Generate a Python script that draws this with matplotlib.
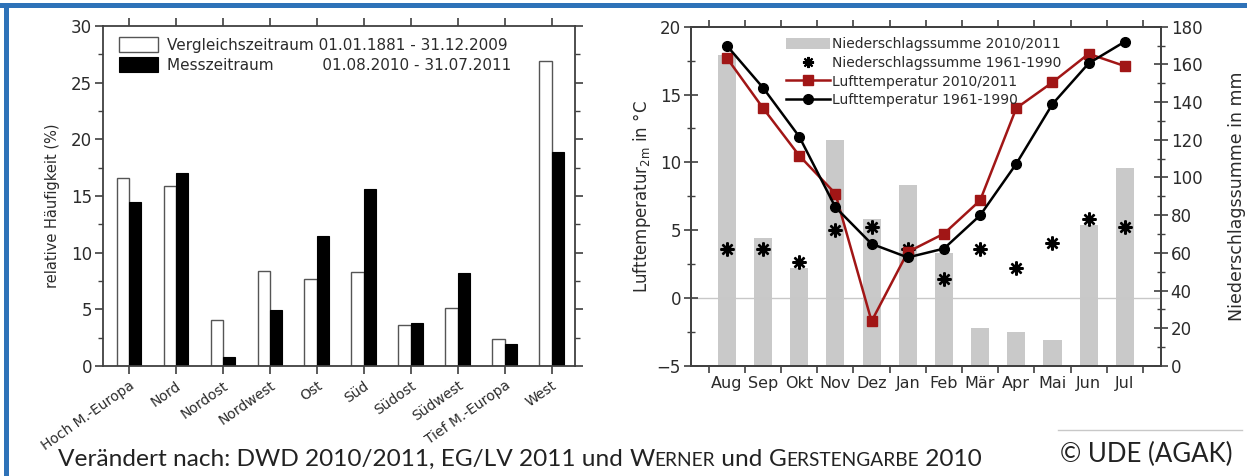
import numpy as np
import matplotlib
matplotlib.use('Agg')
from matplotlib import pyplot as plt
from matplotlib.lines import Line2D
from matplotlib.patches import Patch, Rectangle

# Wetterlagen: relative Häufigkeit (%)
categories = ['Hoch M.-Europa', 'Nord', 'Nordost', 'Nordwest', 'Ost', 'Süd',
              'Südost', 'Südwest', 'Tief M.-Europa', 'West']
vergleich = [16.6, 15.9, 4.1, 8.4, 7.7, 8.3, 3.6, 5.1, 2.4, 26.9]
mess = [14.5, 17.0, 0.8, 4.9, 11.5, 15.6, 3.8, 8.2, 1.9, 18.9]

# Klimadiagramm Aug 2010 - Jul 2011
months = ['Aug', 'Sep', 'Okt', 'Nov', 'Dez', 'Jan', 'Feb', 'Mär', 'Apr', 'Mai', 'Jun', 'Jul']
precip_2010 = [165, 68, 52, 120, 78, 96, 60, 20, 18, 14, 75, 105]
precip_norm = [62, 62, 55, 72, 74, 62, 46, 62, 52, 65, 78, 74]
temp_2010 = [17.7, 14.0, 10.5, 7.7, -1.7, 3.4, 4.75, 7.2, 14.0, 15.9, 18.0, 17.1]
temp_norm = [18.6, 15.5, 11.9, 6.7, 4.0, 3.0, 3.65, 6.1, 9.9, 14.3, 17.3, 18.9]

W, H = 1247, 476
fig = plt.figure(figsize=(W / 100, H / 100), dpi=100)
fig.patch.set_facecolor('white')

txt = '#2b2b2b'
spine_c = '#404040'
plt.rcParams['font.family'] = ['DejaVu Sans']


def box(x0, y0, x1, y1):
    return [x0 / W, 1 - y1 / H, (x1 - x0) / W, (y1 - y0) / H]


def style_spines(ax):
    for s in ax.spines.values():
        s.set_color(spine_c)
        s.set_linewidth(1.3)


# ---- left: Wetterlagen ----
ax = fig.add_axes(box(103, 26, 575, 366))
x = np.arange(len(categories))
bw = 0.26
ax.bar(x - bw / 2, vergleich, bw, color='white', edgecolor='#555555', linewidth=1.0,
       label='Vergleichszeitraum 01.01.1881 - 31.12.2009')
ax.bar(x + bw / 2, mess, bw, color='black', edgecolor='black', linewidth=0.8,
       label='Messzeitraum' + ' ' * 10 + '01.08.2010 - 31.07.2011')
ax.set_xlim(-0.55, 9.5)
ax.set_ylim(0, 30)
ax.set_yticks(np.arange(0, 31, 5))
ax.set_yticks(np.arange(2.5, 30, 5), minor=True)
ax.set_xticks(x)
ax.set_xticklabels(categories, rotation=35, ha='right', rotation_mode='anchor',
                   fontsize=10, color=txt)
ax.tick_params(axis='x', direction='out', length=6, width=1.2, color=spine_c,
               top=True, pad=3)
ax.tick_params(axis='y', which='major', direction='out', length=6, width=1.2,
               color=spine_c, right=True, labelsize=12, labelcolor=txt, pad=2)
ax.tick_params(axis='y', which='minor', direction='out', length=3.5, width=1.0,
               color=spine_c, right=True)
style_spines(ax)
ax.set_ylabel('relative Häufigkeit (%)', fontsize=10.5, color=txt)
ax.yaxis.set_label_coords(-0.092, 0.47)
ax.legend(loc='upper left', bbox_to_anchor=(0.02, 0.985), frameon=False,
          fontsize=11, handlelength=2.6, handleheight=1.1, handletextpad=0.6,
          labelspacing=0.3, borderaxespad=0, labelcolor=txt)

# ---- right: Temperatur und Niederschlag ----
axp = fig.add_axes(box(690.7, 26.7, 1161, 366))
axt = axp.twinx()
mx = np.arange(1, 13)
axp.bar(mx, precip_2010, 0.5, color='#c9c9c9', zorder=1)
axp.plot(mx, precip_norm, linestyle='none', marker=(8, 2, 0), markersize=10,
         mew=1.7, color='black', zorder=3)
axp.set_ylim(0, 180)
axp.set_xlim(0, 13)
axp.set_yticks(np.arange(0, 181, 20))
axp.set_yticks(np.arange(10, 180, 20), minor=True)
axp.yaxis.tick_right()
axp.yaxis.set_label_position('right')
axp.set_ylabel('Niederschlagssumme in mm', fontsize=12.5, color=txt)
axp.yaxis.set_label_coords(1.142, 0.5)

axt.axhline(0, color='#c8c8c8', linewidth=1.0, zorder=1)
axt.plot(mx, temp_2010, color='#a11616', linewidth=1.8, marker='s', markersize=6.5,
         zorder=4)
axt.plot(mx, temp_norm, color='black', linewidth=1.8, marker='o', markersize=7,
         zorder=5)
axt.set_ylim(-5, 20)
axt.set_yticks(np.arange(-5, 21, 5))
axt.set_yticks(np.arange(-2.5, 20, 5), minor=True)
axt.yaxis.tick_left()
axt.yaxis.set_label_position('left')
axt.set_ylabel('Lufttemperatur$_{\\mathregular{2m}}$ in °C', fontsize=12, color=txt)
axt.yaxis.set_label_coords(-0.08, 0.5)

axp.set_xticks(np.arange(0.5, 13, 1))
axp.set_xticklabels([])
axp.set_xticks(mx, minor=True)
axp.set_xticklabels(months, minor=True, fontsize=11.5, color=txt)
axp.tick_params(axis='x', which='major', direction='out', length=5, width=1.2,
                color=spine_c, top=True)
axp.tick_params(axis='x', which='minor', length=0, pad=7)
for a in (axp, axt):
    a.tick_params(axis='y', which='major', direction='inout', length=10, width=1.2,
                  color=spine_c, labelsize=12, labelcolor=txt, pad=2)
    a.tick_params(axis='y', which='minor', direction='inout', length=6, width=1.0,
                  color=spine_c)
    style_spines(a)

handles = [
    Patch(facecolor='#c9c9c9', edgecolor='none'),
    Line2D([], [], linestyle='none', marker=(8, 2, 0), markersize=8, mew=1.5, color='black'),
    Line2D([], [], color='#a11616', linewidth=1.8, marker='s', markersize=6.5),
    Line2D([], [], color='black', linewidth=1.8, marker='o', markersize=7),
]
labels = ['Niederschlagssumme 2010/2011', 'Niederschlagssumme 1961-1990',
          'Lufttemperatur 2010/2011', 'Lufttemperatur 1961-1990']
axt.legend(handles, labels, loc='upper left', bbox_to_anchor=(0.19, 0.985),
           frameon=False, fontsize=10, handlelength=3.2, handleheight=0.9,
           handletextpad=0.15, labelspacing=0.33, borderaxespad=0, labelcolor=txt)

# ---- Rahmen und Quelle ----
blue = '#2e72b8'
fig.add_artist(Rectangle((0, 1 - 8 / H), 1, 5 / H, transform=fig.transFigure,
                         color=blue, lw=0))
fig.add_artist(Rectangle((4 / W, 0), 4.5 / W, 1 - 3 / H, transform=fig.transFigure,
                         color=blue, lw=0))
fig.add_artist(Line2D([1058 / W, 1242 / W], [1 - 430 / H, 1 - 430 / H],
                      transform=fig.transFigure, color='#c8c8c8', lw=1.0))

cap_font = 'Lato'
base_y = 1 - 466 / H
pieces = [('Verändert nach: DWD 2010/2011, EG/LV 2011 und ', 17.6),
          ('W', 17.6), ('ERNER', 13.8), (' und ', 17.6), ('G', 17.6),
          ('ERSTENGARBE', 13.8), (' 2010', 17.6)]
t = fig.text(58 / W, base_y, pieces[0][0], fontsize=pieces[0][1], family=cap_font,
             va='baseline', color='#222222')
for s, fs in pieces[1:]:
    t = fig.add_artist(plt.Annotation(s, xy=(1, base_y), xycoords=(t, 'figure fraction'),
                                      fontsize=fs, family=cap_font, va='baseline',
                                      ha='left', color='#222222'))
fig.text(1060 / W, 1 - 462 / H, '© UDE (AGAK)', fontsize=18.5, family=cap_font,
         va='baseline', color='#222222')

fig.savefig('out.png', dpi=100)
